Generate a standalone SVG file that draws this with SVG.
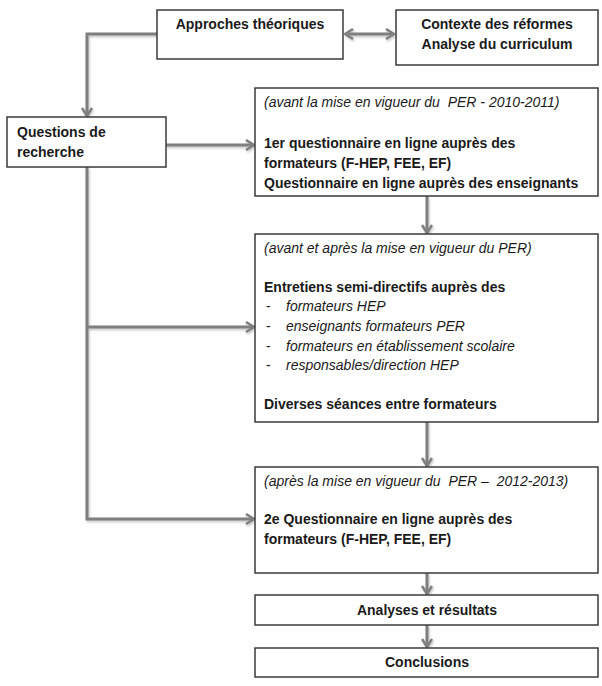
<svg xmlns="http://www.w3.org/2000/svg" width="602" height="686" viewBox="0 0 602 686">
<defs>
<style>
.box{fill:#fff;stroke:#3a3a3a;stroke-width:1.5}
.t{font-family:"Liberation Sans",Arial,sans-serif;font-size:14px;fill:#1a1a1a;white-space:pre}
.b{font-weight:bold}
.i{font-style:italic}
.c{text-anchor:middle}
.con{fill:none;stroke:#7f7f7f;stroke-width:3}
</style>
<marker id="ah" viewBox="0 0 10 12" refX="9" refY="6" markerWidth="10" markerHeight="12" markerUnits="userSpaceOnUse" orient="auto-start-reverse">
<path d="M1,1 L9,6 L1,11" fill="none" stroke="#7f7f7f" stroke-width="2.5"/>
</marker>
<filter id="sh" x="-20%" y="-20%" width="140%" height="140%">
<feDropShadow dx="1" dy="1.5" stdDeviation="1" flood-color="#000" flood-opacity="0.25"/>
</filter>
</defs>
<g id="connectors" filter="url(#sh)">
<path class="con" d="M345,34 H394" marker-start="url(#ah)" marker-end="url(#ah)"/>
<path class="con" d="M157,34 H87 V116" marker-end="url(#ah)"/>
<path class="con" d="M166,145 H254" marker-end="url(#ah)"/>
<path class="con" d="M87,167 V519 H254" marker-end="url(#ah)"/>
<path class="con" d="M87,327 H254" marker-end="url(#ah)"/>
<path class="con" d="M427,196 V233" marker-end="url(#ah)"/>
<path class="con" d="M427,422 V466" marker-end="url(#ah)"/>
<path class="con" d="M427,573 V594" marker-end="url(#ah)"/>
<path class="con" d="M427,625 V647" marker-end="url(#ah)"/>
</g>
<g id="approches">
<rect class="box" x="157" y="10" width="186" height="49"/>
<text class="t b c" x="250" y="29">Approches théoriques</text>
</g>
<g id="contexte">
<rect class="box" x="396" y="10" width="202" height="55"/>
<text class="t b c" x="497" y="29">Contexte des réformes</text>
<text class="t b c" x="497" y="49">Analyse du curriculum</text>
</g>
<g id="questions">
<rect class="box" x="7" y="117" width="159" height="50"/>
<text class="t b" x="17" y="137">Questions de</text>
<text class="t b" x="17" y="157">recherche</text>
</g>
<g id="phase1">
<rect class="box" x="255" y="88" width="343" height="108"/>
<text class="t i" x="264" y="107">(avant la mise en vigueur du  PER - 2010-2011)</text>
<text class="t b" x="264" y="148">1er questionnaire en ligne auprès des</text>
<text class="t b" x="264" y="168">formateurs (F-HEP, FEE, EF)</text>
<text class="t b" x="264" y="188">Questionnaire en ligne auprès des enseignants</text>
</g>
<g id="phase2">
<rect class="box" x="255" y="234" width="343" height="188"/>
<text class="t i" x="264" y="253">(avant et après la mise en vigueur du PER)</text>
<text class="t b" x="264" y="292">Entretiens semi-directifs auprès des</text>
<text class="t" x="266" y="311">-</text>
<text class="t i" x="286" y="311">formateurs HEP</text>
<text class="t" x="266" y="331">-</text>
<text class="t i" x="286" y="331">enseignants formateurs PER</text>
<text class="t" x="266" y="351">-</text>
<text class="t i" x="286" y="351">formateurs en établissement scolaire</text>
<text class="t" x="266" y="370">-</text>
<text class="t i" x="286" y="370">responsables/direction HEP</text>
<text class="t b" x="264" y="409">Diverses séances entre formateurs</text>
</g>
<g id="phase3">
<rect class="box" x="255" y="467" width="343" height="106"/>
<text class="t i" x="264" y="486">(après la mise en vigueur du  PER –  2012-2013)</text>
<text class="t b" x="264" y="524">2e Questionnaire en ligne auprès des</text>
<text class="t b" x="264" y="544">formateurs (F-HEP, FEE, EF)</text>
</g>
<g id="analyses">
<rect class="box" x="255" y="595" width="343" height="30"/>
<text class="t b c" x="427" y="615">Analyses et résultats</text>
</g>
<g id="conclusions">
<rect class="box" x="255" y="648" width="343" height="29"/>
<text class="t b c" x="427" y="667">Conclusions</text>
</g>
</svg>
